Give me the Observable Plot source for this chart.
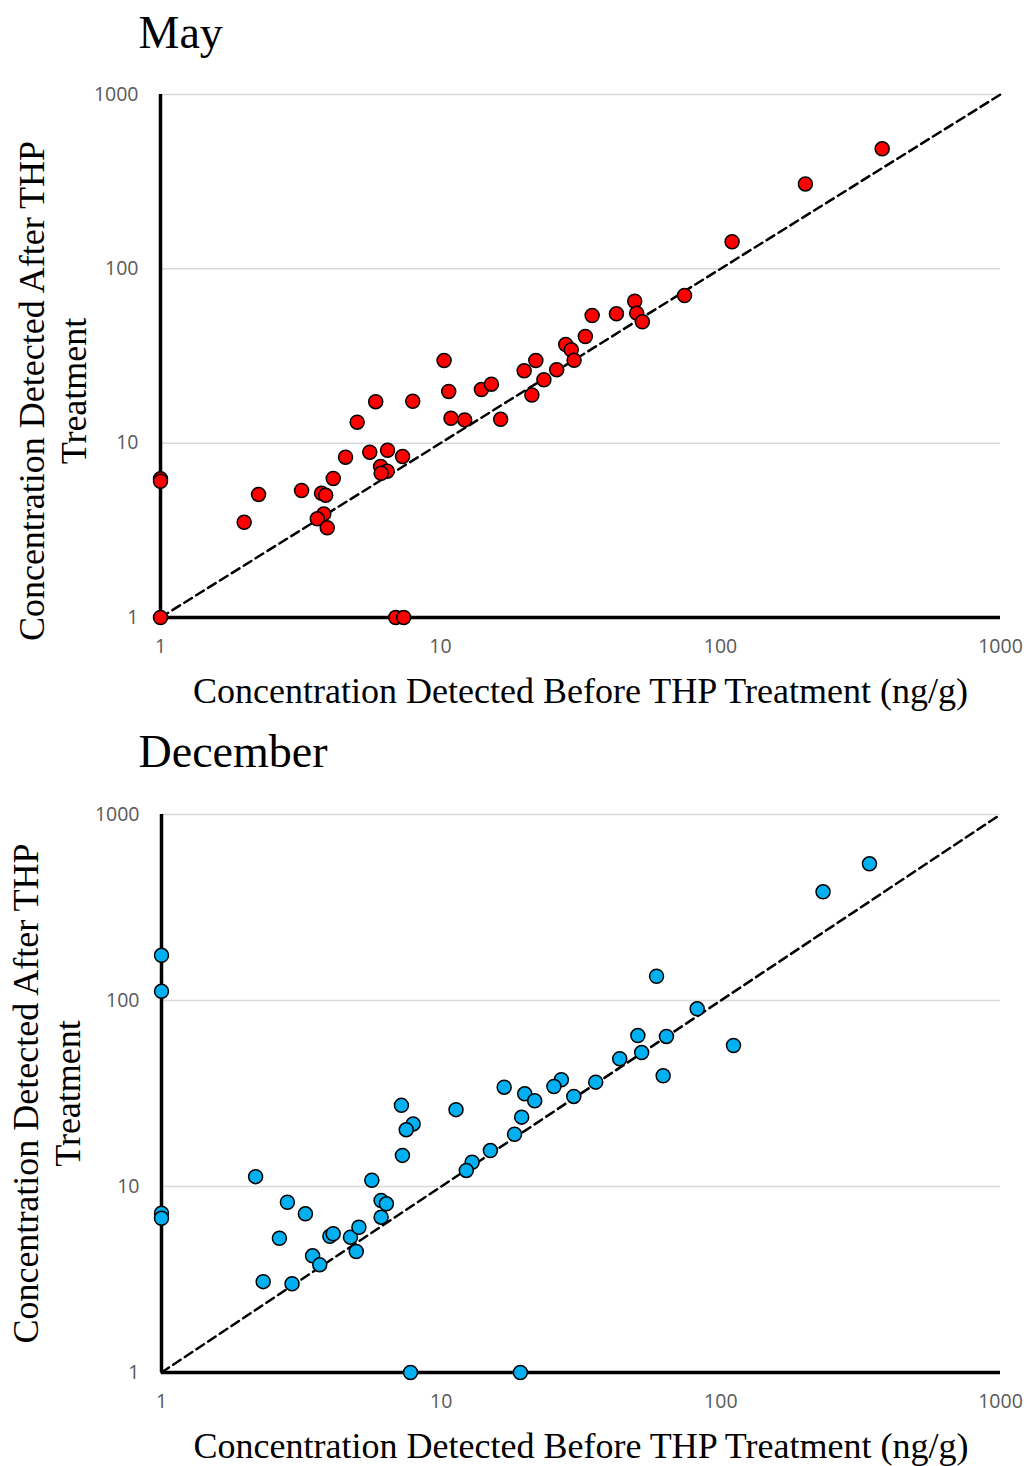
<!DOCTYPE html>
<html>
<head>
<meta charset="utf-8">
<script src="https://cdn.jsdelivr.net/npm/d3@7"></script>
<script src="https://cdn.jsdelivr.net/npm/@observablehq/plot@0.6"></script>
<style>
  body { margin: 0; background: #fff; }
  #wrap { width: 1029px; height: 1466px; position: relative; }
  #wrap svg { display: block; }
</style>
</head>
<body>
<div id="wrap"></div>
<script>
const panelTitles = ["May", "December"];
const xLabel = "Concentration Detected Before THP Treatment (ng/g)";
const yLabel = "Concentration Detected After THP\nTreatment";
const axisTicks = [1, 10, 100, 1000];
const gridValues = [10, 100, 1000];
const identityLine = [1, 1000];

const mayBefore = [10.3, 10.7, 5.87, 7.96, 5.04, 10.9, 12.2, 1, 1, 4.58, 5.59, 6.47, 7.32, 6.11, 6.45, 6.14, 4.14, 2.24, 3.19, 3.76, 3.89, 3.83, 3.63, 3.94, 1.99, 1, 6.92, 7.39, 16.4, 14.0, 15.2, 19.9, 21.9, 21.2, 23.4, 26.0, 28.0, 29.3, 30.0, 32.9, 34.8, 42.5, 49.4, 50.2, 52.6, 74.4, 110, 201, 378];
const mayAfter  = [29.8, 19.8, 17.3, 17.4, 13.2, 13.9, 13.6, 6.25, 6.05, 8.31, 8.88, 9.11, 8.39, 7.35, 6.91, 6.72, 6.27, 5.08, 5.35, 5.16, 5.03, 3.93, 3.68, 3.27, 3.52, 1, 1, 1, 13.7, 20.3, 21.8, 26.0, 29.8, 18.9, 23.1, 26.4, 36.8, 34.3, 29.9, 40.9, 54.0, 55.2, 65.2, 55.7, 49.7, 70.3, 143, 307, 488];

const decBefore = [7.21, 11.3, 7.94, 7.50, 7.27, 2.17, 5.65, 1, 1, 1, 1, 2.82, 6.10, 6.37, 3.27, 6.10, 2.64, 4.00, 4.11, 4.74, 5.08, 4.97, 3.47, 3.68, 2.31, 2.93, 7.77, 19.2, 58.9, 82.3, 50.5, 63.9, 52.1, 111, 43.5, 62.2, 35.7, 29.8, 26.9, 25.3, 16.8, 19.9, 21.6, 19.4, 18.3, 15.0, 12.9, 12.3, 340, 232];
const decAfter  = [27.3, 25.9, 21.7, 20.2, 14.7, 11.3, 10.8, 175, 112, 7.19, 6.75, 8.23, 8.41, 8.07, 7.13, 6.84, 5.27, 5.40, 5.57, 5.34, 6.04, 4.47, 4.24, 3.79, 3.08, 3.00, 1, 1, 135, 90.2, 64.8, 64.1, 52.5, 57.3, 48.6, 39.4, 36.4, 30.5, 37.5, 34.5, 34.2, 31.5, 28.9, 23.6, 19.1, 15.6, 13.5, 12.2, 543, 384];

const mayColor = "#ff0000";
const decColor = "#00b0f0";

function panel(cfg) {
  const data = cfg.before.map((b, i) => ({before: b, after: cfg.after[i]}));
  const serif = "'Liberation Serif', 'Times New Roman', serif";
  return Plot.plot({
    width: 1029,
    height: cfg.height,
    marginTop: cfg.marginTop,
    marginBottom: cfg.marginBottom,
    marginLeft: cfg.marginLeft,
    marginRight: 29,
    x: {type: "log", domain: [1, 1000]},
    y: {type: "log", domain: [1, 1000]},
    style: {fontFamily: "'Open Sans', sans-serif", fontSize: "19.5px", color: "#595959", background: "white", overflow: "visible"},
    marks: [
      Plot.ruleY(gridValues, {stroke: "#d9d9d9", strokeWidth: 1.5}),
      Plot.axisX({ticks: axisTicks, tickSize: 0, tickPadding: 22, tickFormat: d => String(d), label: null}),
      Plot.axisY({ticks: axisTicks, tickSize: 0, tickPadding: 22, tickFormat: d => String(d), label: null}),
      Plot.ruleX([1], {stroke: "black", strokeWidth: 3.5}),
      Plot.ruleY([1], {stroke: "black", strokeWidth: 3.5}),
      Plot.line(identityLine, {x: d => d, y: d => d, stroke: "black", strokeWidth: 2.5, strokeDasharray: "9,5"}),
      Plot.dot(data, {x: "before", y: "after", r: 7, fill: cfg.color, stroke: "black", strokeWidth: 1.5}),
      Plot.text([cfg.title], {text: d => d, frameAnchor: "top-left", dx: cfg.titleDx, dy: cfg.titleDy, lineAnchor: "bottom", textAnchor: "start", fontSize: 46, fontFamily: serif, fill: "black"}),
      Plot.text([xLabel], {text: d => d, frameAnchor: "bottom", dy: cfg.xLabelDy, lineAnchor: "bottom", textAnchor: "middle", fontSize: 36, fontFamily: serif, fill: "black"}),
      Plot.text([yLabel], {text: d => d, frameAnchor: "left", rotate: -90, dx: cfg.yLabelDx, dy: cfg.yLabelDy, lineAnchor: "middle", textAnchor: "middle", lineHeight: 1.17, fontSize: 36, fontFamily: serif, fill: "black"})
    ]
  });
}

const wrap = document.getElementById("wrap");
wrap.appendChild(panel({
  title: panelTitles[0], before: mayBefore, after: mayAfter, color: mayColor,
  height: 720, marginTop: 94, marginBottom: 103, marginLeft: 160,
  titleDx: -22, titleDy: -47, xLabelDy: 85, yLabelDx: -109, yLabelDy: 35
}));
wrap.appendChild(panel({
  title: panelTitles[1], before: decBefore, after: decAfter, color: decColor,
  height: 746, marginTop: 94, marginBottom: 94, marginLeft: 161,
  titleDx: -23, titleDy: -48, xLabelDy: 85, yLabelDx: -116, yLabelDy: 0
}));
</script>
</body>
</html>
